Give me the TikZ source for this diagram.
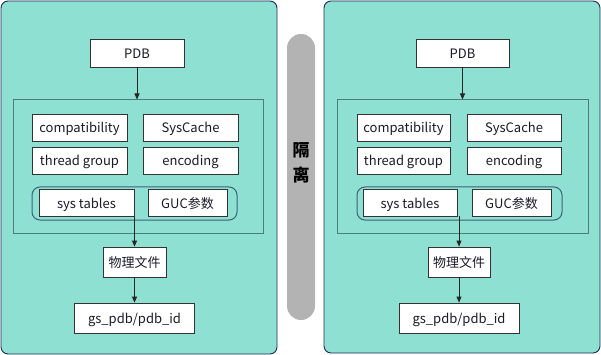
\documentclass[tikz,border=0pt]{standalone}
\usepackage{fontspec}
\setmainfont{Noto Sans CJK SC}
\usetikzlibrary{arrows.meta}
\definecolor{panelfill}{HTML}{8EE0D2}
\definecolor{panelline}{HTML}{1F2A50}
\definecolor{innerline}{HTML}{4E7C7A}
\definecolor{grpline}{HTML}{3D6272}
\definecolor{boxline}{HTML}{333333}
\definecolor{pillfill}{HTML}{B3B3B3}
\definecolor{txt}{HTML}{1A1A2A}
\tikzset{
  panel/.style={draw=panelline, fill=panelfill, line width=0.9pt, rounded corners=7pt},
  box/.style={draw=boxline, fill=white, line width=0.8pt, inner sep=0pt, text=txt,
    text height=11.5pt, text depth=0.5pt, font=\fontsize{13}{15}\selectfont},
  innerbox/.style={draw=innerline, line width=1pt, inner sep=0pt},
  grpbox/.style={draw=grpline, line width=1pt, rounded corners=8pt, inner sep=0pt},
  arr/.style={draw=black!85, line width=0.8pt, -{Triangle[length=6pt,width=5pt]}},
  sep/.style={font=\fontsize{17}{19}\selectfont\bfseries, text=black},
}
\begin{document}
\begin{tikzpicture}[x=1pt,y=-1pt]
\useasboundingbox (0,0) rectangle (601,355);
% panels
\draw[panel] (1,1) rectangle (277,354);
\draw[panel] (324,1) rectangle (600,353);
% separator pill
\node[draw=none, fill=pillfill, rounded corners=14pt, minimum width=28pt, minimum height=286pt, inner sep=0pt] (pill) at (301,177) {};
\node[sep] (ge) at (301,150) {隔};
\node[sep] (li) at (301,175) {离};

% ---------- left ----------
\node[box, minimum width=94pt, minimum height=28pt] (lpdb) at (137,53) {PDB};
\node[innerbox, minimum width=250pt, minimum height=133.5pt] (lin) at (138,166.75) {};
\node[box, minimum width=95pt, minimum height=27pt] (lcomp) at (79.5,127.5) {compatibility};
\node[box, minimum width=95pt, minimum height=27pt] (lsc) at (190.5,127.5) {SysCache};
\node[box, minimum width=95pt, minimum height=27pt] (lthr) at (79.5,160.5) {thread group};
\node[box, minimum width=95pt, minimum height=27pt] (lenc) at (190.5,160.5) {encoding};
\node[grpbox, minimum width=205pt, minimum height=33pt] (lgrp) at (134.5,203.5) {};
\node[box, minimum width=95pt, minimum height=27pt] (lst) at (86.5,202.5) {sys tables};
\node[box, minimum width=79pt, minimum height=27pt] (lguc) at (187.5,202.5) {GUC参数};
\node[box, minimum width=63pt, minimum height=30pt] (lphy) at (134.5,262) {物理文件};
\node[box, minimum width=120pt, minimum height=30pt] (lgs) at (134.5,318) {gs\_pdb/pdb\_id};
\draw[arr] (lpdb.south) -- (lpdb.south |- lin.north);
\draw[arr] (lphy.north |- lst.south) -- (lphy.north);
\draw[arr] (lphy.south) -- (lgs.north);

% ---------- right ----------
\node[box, minimum width=93pt, minimum height=28pt] (rpdb) at (462.5,53) {PDB};
\node[innerbox, minimum width=251pt, minimum height=133pt] (rin) at (462.5,166.5) {};
\node[box, minimum width=93pt, minimum height=27pt] (rcomp) at (403.5,127.5) {compatibility};
\node[box, minimum width=94pt, minimum height=27pt] (rsc) at (514,127.5) {SysCache};
\node[box, minimum width=93pt, minimum height=27pt] (rthr) at (403.5,160.5) {thread group};
\node[box, minimum width=94pt, minimum height=27pt] (renc) at (514,160.5) {encoding};
\node[grpbox, minimum width=205pt, minimum height=33pt] (rgrp) at (459.5,203.5) {};
\node[box, minimum width=94pt, minimum height=27pt] (rst) at (410,202.5) {sys tables};
\node[box, minimum width=79pt, minimum height=27pt] (rguc) at (511.5,202.5) {GUC参数};
\node[box, minimum width=62pt, minimum height=30pt] (rphy) at (459,262) {物理文件};
\node[box, minimum width=120pt, minimum height=30pt] (rgs) at (459,318) {gs\_pdb/pdb\_id};
\draw[arr] (rpdb.south) -- (rpdb.south |- rin.north);
\draw[arr] (rphy.north |- rst.south) -- (rphy.north);
\draw[arr] (rphy.south) -- (rgs.north);
\end{tikzpicture}
\end{document}
